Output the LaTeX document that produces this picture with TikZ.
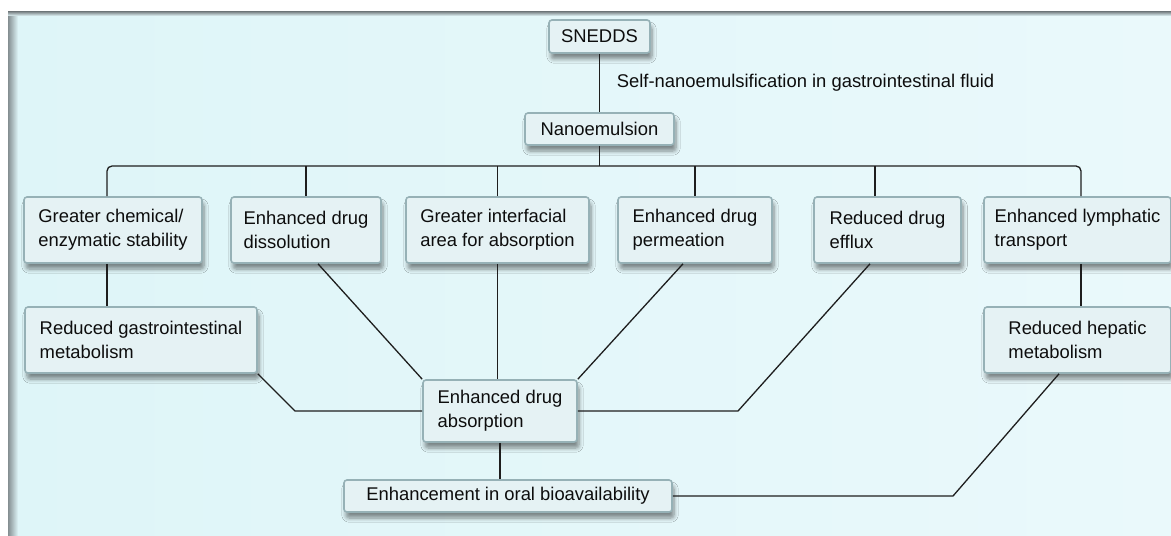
\documentclass[tikz,border=0pt]{standalone}
\usepackage{fontspec}
\setmainfont{Liberation Sans}
\usepackage{xcolor}
\usepackage{tikz}
\usetikzlibrary{shadows.blur}

\definecolor{panelbg}{RGB}{222,245,248}
\definecolor{panelhi}{RGB}{234,249,251}
\definecolor{boxfill}{RGB}{229,242,244}
\definecolor{boxedge}{RGB}{150,177,182}
\definecolor{edgegray}{RGB}{132,142,145}
\definecolor{linecol}{RGB}{30,30,30}

\begin{document}
\begin{tikzpicture}[x=0.5pt,y=-0.5pt,
  box/.style={draw=boxedge, fill=boxfill, line width=0.8pt, rounded corners=1.5pt,
    align=left, inner sep=0pt, font=\fontsize{9.2}{12}\selectfont, text=black!95,
    blur shadow={shadow xshift=1pt, shadow yshift=-3pt, shadow opacity=45, shadow blur steps=6}},
  link/.style={draw=linecol, line width=0.65pt}]
% 背景
\useasboundingbox (0,0) rectangle (1171,535);
\fill[white] (0,0) rectangle (1171,535);
\shade[left color=panelbg, right color=panelhi] (8,12) rectangle (1171,535);
\shade[left color=edgegray, right color=panelbg] (8,12) rectangle (18,535);
\shade[top color=edgegray, bottom color=panelbg!60!panelhi] (8,12) rectangle (1171,16);
% 上部
\node[box, minimum width=50.5pt, minimum height=16.5pt] (snedds) at (599.5,36.5) {SNEDDS};
\node[box, minimum width=74.5pt, minimum height=16pt] (nano) at (599.5,129) {Nanoemulsion};
% 六个效应
\node[box, minimum width=89pt, minimum height=33pt] (chem) at (113,230) {Greater chemical/\\enzymatic stability};
\node[box, minimum width=75pt, minimum height=33pt] (diss) at (306,230) {Enhanced drug\\dissolution};
\node[box, minimum width=91.5pt, minimum height=33pt] (area) at (497.5,230) {Greater interfacial\\area for absorption};
\node[box, minimum width=77pt, minimum height=33pt] (perm) at (695,230) {Enhanced drug\\permeation};
\node[box, minimum width=73.5pt, minimum height=33pt] (efflux) at (887.5,230) {Reduced drug\\efflux};
\node[box, minimum width=93.5pt, minimum height=33pt] (lymph) at (1077.5,230) {Enhanced lymphatic\\transport};
% 下部
\node[box, minimum width=116pt, minimum height=33pt] (gimet) at (141,340) {Reduced gastrointestinal\\metabolism};
\node[box, minimum width=93.5pt, minimum height=33pt] (hepmet) at (1077.5,340) {Reduced hepatic\\metabolism};
\node[box, minimum width=77pt, minimum height=31pt] (absorb) at (500,411) {Enhanced drug\\absorption};
\node[box, minimum width=164pt, minimum height=16pt] (oral) at (508,496) {Enhancement in oral bioavailability};
% 转折点
\coordinate (busL) at (107,166);
\coordinate (busR) at (1081,166);
\coordinate (kinkL) at (295,411);
\coordinate (kinkR) at (738,411);
\coordinate (kinkH) at (953,496);
% 连线
\draw[link] (snedds) -- node[right=5pt, font=\fontsize{9.2}{12}\selectfont, text=black!95] (emuls) {Self-nanoemulsification in gastrointestinal fluid} (nano);
\draw[link] (nano) -- (nano |- busL);
\draw[link, rounded corners=2.5pt] (chem.north -| busL) -- (busL) -- (busR) -- (lymph.north -| busR);
\draw[link] (diss) -- (diss |- busL);
\draw[link] (area) -- (area |- busL);
\draw[link] (perm) -- (perm |- busL);
\draw[link] ([xshift=-6.25pt]efflux.north) -- ([xshift=-6.25pt]efflux.north |- busL);
\draw[link] (chem.south -| busL) -- (gimet.north -| busL);
\draw[link] (gimet.south east) -- (kinkL) -- (absorb.west);
\draw[link] ([xshift=6pt]diss.south) -- (absorb.north west);
\draw[link] (area) -- (area |- absorb.north);
\draw[link] ([xshift=-6pt]perm.south) -- (absorb.north east);
\draw[link] ([xshift=-8.75pt]efflux.south) -- (kinkR) -- (absorb.east);
\draw[link] (lymph.south -| busR) -- (hepmet.north -| busR);
\draw[link] ([xshift=-9.25pt]hepmet.south) -- (kinkH) -- (oral.east);
\draw[link] (absorb) -- (absorb |- oral.north);
\end{tikzpicture}
\end{document}
